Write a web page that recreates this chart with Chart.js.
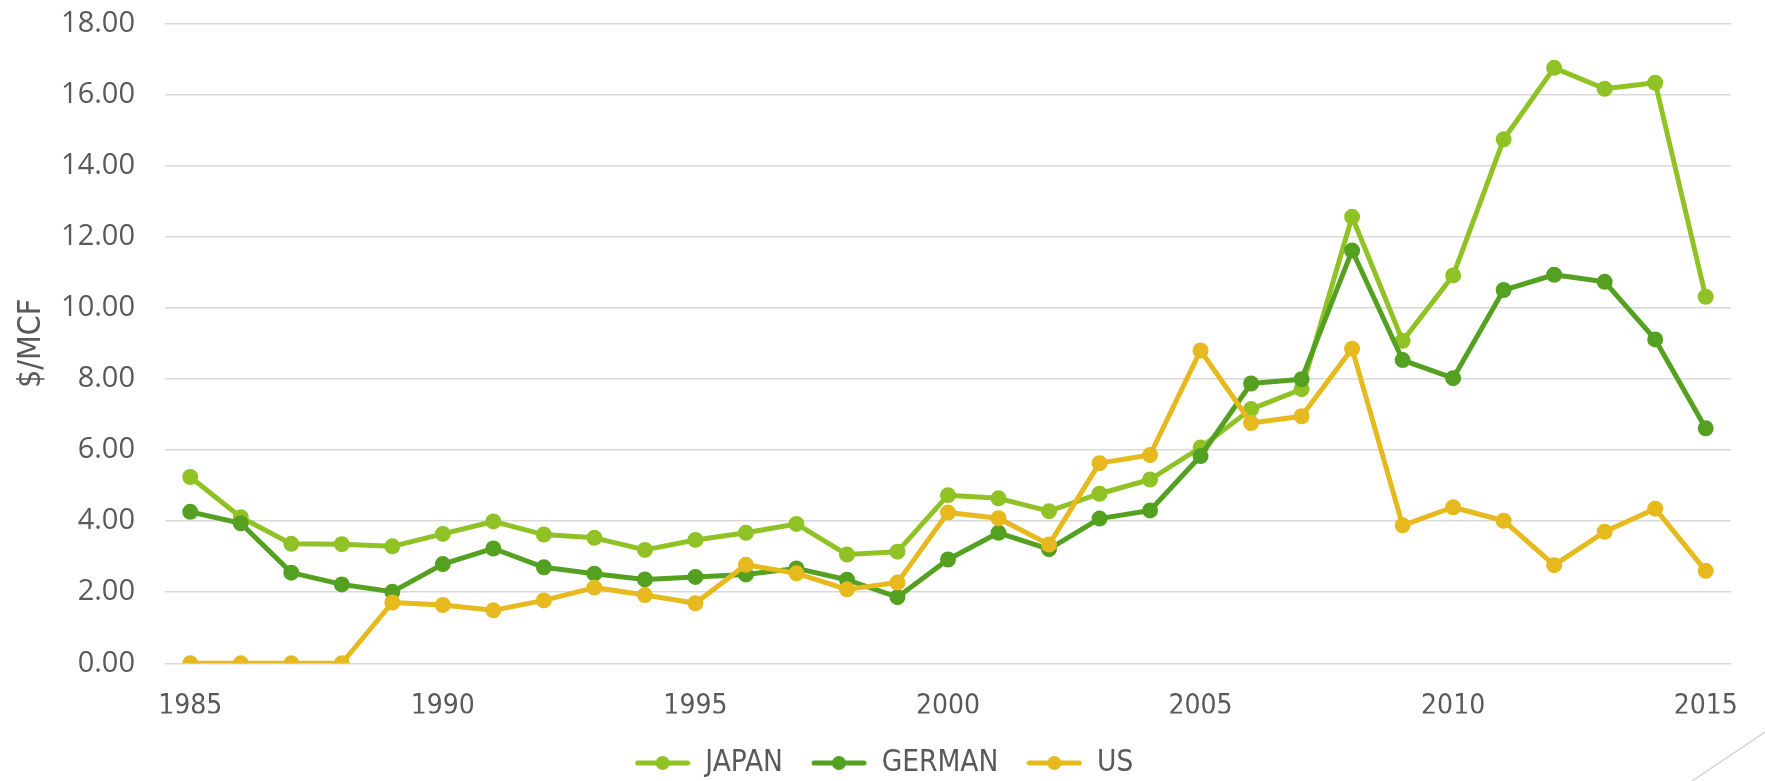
<!DOCTYPE html>
<html>
<head>
<meta charset="utf-8">
<title>Natural gas prices</title>
<script src="https://cdn.jsdelivr.net/npm/chart.js@4/dist/chart.umd.min.js"></script>
<style>
  html, body { margin: 0; padding: 0; background: #ffffff; }
  #wrap { width: 1765px; height: 781px; position: relative; }
</style>
</head>
<body>
<div id="wrap"><canvas id="chart" width="1765" height="781"></canvas></div>
<script>
// Years on the category axis
const years = [
  '1985','1986','1987','1988','1989','1990','1991','1992','1993','1994',
  '1995','1996','1997','1998','1999','2000','2001','2002','2003','2004',
  '2005','2006','2007','2008','2009','2010','2011','2012','2013','2014','2015'
];

// Prices in $/MCF
const japan = [
  5.24, 4.11, 3.36, 3.35, 3.29, 3.64, 3.99, 3.62, 3.53, 3.19,
  3.47, 3.67, 3.92, 3.06, 3.14, 4.73, 4.64, 4.28, 4.77, 5.17,
  6.07, 7.15, 7.71, 12.56, 9.07, 10.91, 14.74, 16.75, 16.16, 16.33, 10.31
];
const german = [
  4.26, 3.94, 2.55, 2.22, 2.01, 2.79, 3.23, 2.70, 2.52, 2.36,
  2.43, 2.50, 2.67, 2.35, 1.86, 2.92, 3.67, 3.21, 4.07, 4.30,
  5.83, 7.87, 7.99, 11.61, 8.53, 8.02, 10.50, 10.93, 10.73, 9.11, 6.61
];
const us = [
  0.00, 0.00, 0.00, 0.00, 1.71, 1.64, 1.49, 1.77, 2.13, 1.92,
  1.69, 2.77, 2.53, 2.08, 2.27, 4.24, 4.08, 3.34, 5.63, 5.86,
  8.80, 6.76, 6.95, 8.85, 3.88, 4.39, 4.01, 2.76, 3.70, 4.35, 2.60
];

// Y axis range and step
const yTicks = [0, 2, 4, 6, 8, 10, 12, 14, 16, 18];

const seriesNames = ['JAPAN', 'GERMAN', 'US'];
const seriesColors = ['#90C226', '#54A021', '#E6B91E'];

const textColor = '#595959';
const condensed = '"DejaVu Sans Condensed", "DejaVu Sans", sans-serif';

// Legend swatch: a short line with a dot in the middle
function legendSwatch(color) {
  const c = document.createElement('canvas');
  c.width = 56; c.height = 16;
  const g = c.getContext('2d');
  g.strokeStyle = color;
  g.lineWidth = 5;
  g.lineCap = 'round';
  g.beginPath();
  g.moveTo(3, 8); g.lineTo(53, 8);
  g.stroke();
  g.fillStyle = color;
  g.beginPath();
  g.arc(28, 8, 7, 0, Math.PI * 2);
  g.fill();
  return c;
}
const swatches = seriesColors.map(legendSwatch);

function makeSet(i, values, order) {
  return {
    label: seriesNames[i],
    data: values,
    borderColor: seriesColors[i],
    backgroundColor: seriesColors[i],
    pointBackgroundColor: seriesColors[i],
    pointBorderColor: seriesColors[i],
    borderWidth: 5,
    pointRadius: 7,
    pointBorderWidth: 2,
    pointHoverRadius: 7,
    borderJoinStyle: 'round',
    borderCapStyle: 'round',
    tension: 0,
    fill: false,
    order: order
  };
}

// Plot area box and legend line position
const PLOT_TOP = 23.4, PLOT_BOTTOM = 663.3, PLOT_LEFT = 165, PLOT_RIGHT = 1750;
const LEGEND_CENTER_Y = 763;
const LEGEND_SHIFT_X = 9;
const LEGEND_FONT = 29.5;
const LEGEND_PAD = 28;

const placement = {
  id: 'placement',
  afterLayout(chart) {
    const lg = chart.legend;
    if (lg) {
      const d = LEGEND_CENTER_Y - (lg.top + LEGEND_PAD + LEGEND_FONT / 2);
      lg.top += d; lg.bottom += d;
      lg.left += LEGEND_SHIFT_X; lg.right += LEGEND_SHIFT_X;
    }
  }
};

// Slide corner decoration
const cornerLine = {
  id: 'cornerLine',
  afterDraw(chart) {
    const ctx = chart.ctx;
    const w = chart.width, h = chart.height;
    ctx.save();
    ctx.strokeStyle = '#d4d4d4';
    ctx.lineWidth = 1.5;
    ctx.beginPath();
    ctx.moveTo(w - 73, h);
    ctx.lineTo(w, h - 49);
    ctx.stroke();
    ctx.restore();
  }
};

const LEGEND_HEIGHT = LEGEND_PAD + LEGEND_FONT + 10;

new Chart(document.getElementById('chart'), {
  type: 'line',
  data: {
    labels: years,
    datasets: [
      makeSet(0, japan, 3),
      makeSet(1, german, 2),
      makeSet(2, us, 1)
    ]
  },
  plugins: [placement, cornerLine],
  options: {
    responsive: false,
    animation: false,
    events: [],
    layout: { padding: { top: PLOT_TOP, right: 1765 - PLOT_RIGHT, bottom: 0, left: 0 } },
    scales: {
      x: {
        type: 'category',
        offset: true,
        grid: { display: false, drawTicks: false },
        border: { display: false },
        ticks: {
          autoSkip: false,
          maxRotation: 0,
          minRotation: 0,
          padding: 27,
          color: textColor,
          font: { family: condensed, size: 28 },
          callback: function (value) {
            const y = years[value];
            return (parseInt(y, 10) % 5 === 0) ? y : '';
          }
        },
        afterFit(scale) {
          scale.height = 781 - LEGEND_HEIGHT - PLOT_BOTTOM;
        }
      },
      y: {
        min: yTicks[0],
        max: yTicks[yTicks.length - 1],
        grid: { color: '#d9d9d9', lineWidth: 1.5, drawTicks: false },
        border: { display: false },
        ticks: {
          stepSize: yTicks[1] - yTicks[0],
          padding: 30,
          color: textColor,
          font: { family: '"Open Sans", sans-serif', size: 29 },
          callback: v => Number(v).toFixed(2)
        },
        title: {
          display: true,
          text: '$/MCF',
          color: textColor,
          font: { family: condensed, size: 32 },
          padding: { top: 12, bottom: 0 }
        },
        afterFit(scale) {
          scale.width = PLOT_LEFT;
          scale.paddingTop = 0;
          scale.paddingBottom = 0;
        }
      }
    },
    plugins: {
      tooltip: { enabled: false },
      legend: {
        display: true,
        position: 'bottom',
        reverse: true,
        labels: {
          usePointStyle: true,
          pointStyleWidth: 56,
          padding: LEGEND_PAD,
          color: textColor,
          font: { family: condensed, size: LEGEND_FONT },
          generateLabels(chart) {
            const items = Chart.defaults.plugins.legend.labels.generateLabels(chart);
            items.forEach(it => {
              it.pointStyle = swatches[it.datasetIndex];
              it.lineWidth = 0;
            });
            return items;
          }
        }
      }
    }
  }
});
</script>
</body>
</html>
